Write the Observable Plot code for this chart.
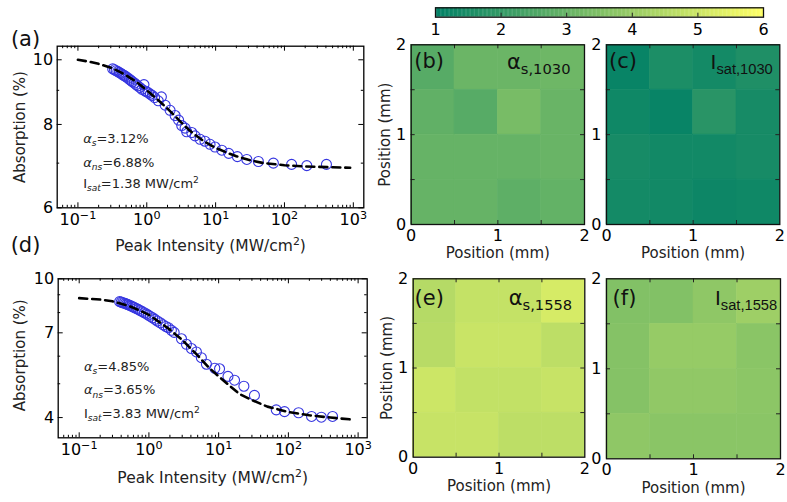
<!DOCTYPE html>
<html><head><meta charset="utf-8">
<script src="https://cdn.jsdelivr.net/npm/d3@7"></script>
<script src="https://cdn.jsdelivr.net/npm/@observablehq/plot@0.6"></script>
<style>
html,body{margin:0;padding:0;background:#fff;}
#wrap{position:relative;width:787px;height:502px;overflow:hidden;background:#fff;}
#wrap svg{position:absolute;background:none;overflow:visible;max-width:none;}
</style></head><body><div id="wrap"></div>
<script>
// ---------- data: panel (a) 1030 nm ----------
const intensityA = [0.32,0.34,0.36,0.38,0.40,0.42,0.44,0.46,0.48,0.50,0.53,0.56,0.59,0.62,0.66,0.70,0.74,0.79,0.85,0.91,0.95,1.0,1.06,1.13,1.2,1.3,1.47,1.63,1.85,2.18,2.58,2.9,3.22,3.6,3.8,4.5,5.03,5.95,7.0,8.3,9.8,12.3,15.5,20.7,28.4,41.8,69,127,211,407];
const absorptionA = [9.69,9.66,9.63,9.60,9.57,9.54,9.51,9.48,9.46,9.43,9.39,9.35,9.31,9.27,9.23,9.18,9.14,9.09,9.03,9.18,8.98,8.95,8.92,8.88,8.84,8.78,8.68,8.80,8.55,8.40,8.25,8.12,7.97,7.90,7.80,7.78,7.69,7.60,7.55,7.47,7.40,7.32,7.24,7.16,7.09,7.04,7.00,6.97,6.94,6.97];
const fitIntensityA = [0.1,0.15,0.2,0.3,0.4,0.5,0.7,1,1.5,2,3,4,5,7,10,15,20,30,50,100,200,500,900];
const fitAbsorptionA = [10.0,9.93,9.86,9.73,9.60,9.48,9.27,9.0,8.68,8.45,8.10,7.87,7.72,7.53,7.38,7.25,7.17,7.08,7.00,6.95,6.92,6.90,6.89];
const notesA = ["~{α}_~{s}=3.12%", "~{α}_~{ns}=6.88%", "I_~{sat}=1.38 MW/cm^{2}"];
const yTicksA = [6, 8, 10];

// ---------- data: panel (d) 1558 nm ----------
const intensityD = [0.38,0.40,0.42,0.44,0.46,0.48,0.50,0.53,0.56,0.59,0.62,0.66,0.70,0.75,0.80,0.86,0.92,0.98,1.05,1.13,1.22,1.32,1.45,1.60,1.75,1.9,2.1,2.3,2.93,3.45,4.07,4.8,5.65,6.68,8.8,10.3,13.6,16.9,23,32.6,67,88,140,215,297,430];
const absorptionD = [8.60,8.57,8.54,8.52,8.49,8.46,8.43,8.39,8.35,8.31,8.27,8.22,8.17,8.11,8.05,7.99,7.93,7.87,7.80,7.73,7.65,7.57,7.48,7.38,7.30,7.24,7.12,7.02,6.73,6.49,6.31,6.17,5.94,5.69,5.54,5.52,5.25,5.12,4.92,4.63,4.21,4.16,4.13,4.03,4.01,4.03];
const fitIntensityD = [0.1,0.2,0.3,0.5,0.7,1,1.5,2,3,4,5,7,10,15,20,30,50,100,200,400,800];
const fitAbsorptionD = [8.80,8.72,8.62,8.38,8.15,7.88,7.45,7.15,6.68,6.30,6.03,5.60,5.25,4.90,4.67,4.49,4.30,4.15,4.06,4.00,3.95];
const notesD = ["~{α}_~{s}=4.85%", "~{α}_~{ns}=3.65%", "I_~{sat}=3.83 MW/cm^{2}"];
const yTicksD = [4, 7, 10];

const xTicksLog = [0.1, 1, 10, 100, 1000];

// ---------- data: 2D maps (rows listed top to bottom, columns left to right) ----------
const cellEdgesX = [0, 0.5, 1, 1.5];
const cellEdgesY = [1.5, 1, 0.5, 0];
const mapAlpha1030 = [
  [2.7, 3.1, 3.1, 3.15],
  [2.9, 2.7, 3.35, 3.05],
  [3.0, 3.0, 3.0, 3.05],
  [3.0, 3.0, 2.85, 2.95]];
const mapIsat1030 = [
  [1.15, 1.55, 1.4, 1.6],
  [1.3, 1.15, 1.8, 1.45],
  [1.45, 1.35, 1.35, 1.45],
  [1.4, 1.35, 1.25, 1.3]];
const mapAlpha1558 = [
  [4.55, 4.85, 4.85, 5.2],
  [4.6, 4.95, 4.95, 4.7],
  [5.0, 4.8, 4.8, 4.9],
  [4.9, 4.9, 4.7, 4.7]];
const mapIsat1558 = [
  [3.55, 3.55, 3.8, 4.1],
  [3.6, 3.95, 3.95, 3.7],
  [3.6, 3.85, 3.85, 3.75],
  [3.8, 3.7, 3.7, 3.7]];
const mapTicks = [0, 1, 2];
const colorbarTicks = [1, 2, 3, 4, 5, 6];

// ---------- helpers ----------
const wrap = document.getElementById("wrap");
const FONT = "DejaVu Sans, Bitstream Vera Sans, sans-serif";
const colorScale = {type: "linear", domain: [1, 6], interpolate: d3.interpolateRgb("#008066", "#ffff66")};

function place(svg, left, top) {
  svg.style.left = left + "px";
  svg.style.top = top + "px";
  wrap.appendChild(svg);
  richify(svg);
}

function richify(root) {
  root.querySelectorAll("text").forEach(t => {
    const s = t.textContent;
    if (!/[_^~]\{/.test(s)) return;
    const fs = parseFloat(getComputedStyle(t).fontSize) || 12;
    while (t.firstChild) t.removeChild(t.firstChild);
    const re = /(_~|_|\^|~)\{([^}]*)\}/g;
    let last = 0, shift = 0, m;
    const add = (str, kind) => {
      if (!str) return;
      const sp = document.createElementNS("http://www.w3.org/2000/svg", "tspan");
      let target = 0, size = null, italic = false;
      if (kind === "_" || kind === "_~") { target = 0.24 * fs; size = 0.7 * fs; }
      if (kind === "^") { target = -0.4 * fs; size = 0.7 * fs; }
      if (kind === "~" || kind === "_~") italic = true;
      const dy = target - shift; shift = target;
      if (dy) sp.setAttribute("dy", dy);
      if (size) sp.setAttribute("font-size", size);
      if (italic) sp.setAttribute("font-style", "italic");
      sp.textContent = str;
      t.appendChild(sp);
    };
    while ((m = re.exec(s))) { add(s.slice(last, m.index), ""); add(m[2], m[1]); last = re.lastIndex; }
    add(s.slice(last), "");
  });
}

function logMinor(lo, hi) {
  const out = [];
  for (let e = -2; e <= 3; e++) for (let k = 2; k <= 9; k++) {
    const v = k * Math.pow(10, e);
    if (v > lo && v < hi) out.push(v);
  }
  return out;
}

function absorptionPanel(cfg) {
  const {xs, ys, fx, fy, xDomain, yDomain, yMajor, yMinor, notes, noteX, noteY, tag,
         width, height, ml, mr, mt, mb, tagDx, tagDy, xLabDy, yLabDx, yLabDy} = cfg;
  const H = height - mt - mb, W = width - ml - mr;
  const pts = xs.map((x, i) => ({x, y: ys[i]}));
  const fit = fx.map((x, i) => ({x, y: fy[i]}));
  const notePts = notes.map((t, i) => ({x: noteX, y: noteY[i], t}));
  const minorX = logMinor(xDomain[0], xDomain[1]);
  const expo = d => { const e = Math.round(Math.log10(d)); return "10^{" + (e < 0 ? "\u2212" + (-e) : e) + "}"; };
  return Plot.plot({
    width, height, marginLeft: ml, marginRight: mr, marginTop: mt, marginBottom: mb,
    style: {fontFamily: FONT, background: "none", overflow: "visible"},
    x: {type: "log", domain: xDomain},
    y: {type: "log", domain: yDomain},
    marks: [
      Plot.dot(pts, {x: "x", y: "y", r: 5, stroke: "#3636e0", fill: "none", strokeWidth: 1.1}),
      Plot.line(fit, {x: "x", y: "y", stroke: "#000", strokeWidth: 2.6, strokeDasharray: "8,5"}),
      Plot.tickX(xTicksLog, {x: d => d, insetTop: H - 5, stroke: "#000"}),
      Plot.tickX(xTicksLog, {x: d => d, insetBottom: H - 5, stroke: "#000"}),
      Plot.tickX(minorX, {x: d => d, insetTop: H - 2.5, stroke: "#000"}),
      Plot.tickX(minorX, {x: d => d, insetBottom: H - 2.5, stroke: "#000"}),
      Plot.tickY(yMajor, {y: d => d, insetRight: W - 5, stroke: "#000"}),
      Plot.tickY(yMajor, {y: d => d, insetLeft: W - 5, stroke: "#000"}),
      Plot.tickY(yMinor, {y: d => d, insetRight: W - 2.5, stroke: "#000"}),
      Plot.tickY(yMinor, {y: d => d, insetLeft: W - 2.5, stroke: "#000"}),
      Plot.axisX({ticks: xTicksLog, tickFormat: expo, tickSize: 0, tickPadding: 6, fontSize: 16, label: null}),
      Plot.axisY({ticks: yMajor, tickFormat: d => String(d), tickSize: 0, tickPadding: 4, fontSize: 16, label: null}),
      Plot.text(notePts, {x: "x", y: "y", text: "t", textAnchor: "start", fontSize: 13, fill: "#222"}),
      Plot.text(["Absorption (%)"], {frameAnchor: "left", rotate: -90, dx: yLabDx, dy: yLabDy, textAnchor: "middle", lineAnchor: "middle", fontSize: 15, fill: "#222"}),
      Plot.text(["Peak Intensity (MW/cm^{2})"], {frameAnchor: "bottom", dy: xLabDy, textAnchor: "middle", lineAnchor: "middle", fontSize: 15.5, fill: "#222"}),
      Plot.text([tag], {frameAnchor: "top-left", dx: tagDx, dy: tagDy, textAnchor: "middle", lineAnchor: "middle", fontSize: 21, fill: "#111"}),
      Plot.frame({stroke: "#000", strokeWidth: 1.3})
    ]
  });
}

function heatPanel(cfg) {
  const {grid, tag, title, titleFont, width, height, ml, mr, mt, mb, yLabel, tagDx, tagDy, titleDx, titleDy, xLabDy} = cfg;
  const H = height - mt - mb, W = width - ml - mr;
  const cells = [];
  grid.forEach((row, r) => row.forEach((v, c) => cells.push({x: cellEdgesX[c], y: cellEdgesY[r], v})));
  const inner = [0.5, 1, 1.5];
  const marks = [
    Plot.rect(cells, {x1: "x", x2: d => d.x + 0.5, y1: "y", y2: d => d.y + 0.5, fill: "v", stroke: "v", strokeWidth: 0.6}),
    Plot.tickX(inner, {x: d => d, insetTop: H - 4, stroke: "#222"}),
    Plot.tickX(inner, {x: d => d, insetBottom: H - 4, stroke: "#222"}),
    Plot.tickY(inner, {y: d => d, insetRight: W - 4, stroke: "#222"}),
    Plot.tickY(inner, {y: d => d, insetLeft: W - 4, stroke: "#222"}),
    Plot.axisX({ticks: mapTicks, tickFormat: d => String(d), tickSize: 0, tickPadding: 5, fontSize: 16, label: null}),
    Plot.axisY({ticks: mapTicks, tickFormat: d => String(d), tickSize: 0, tickPadding: 5, fontSize: 16, label: null}),
    Plot.text(["Position (mm)"], {frameAnchor: "bottom", dy: xLabDy, textAnchor: "middle", lineAnchor: "middle", fontSize: 15, fill: "#222"}),
    Plot.text([tag], {frameAnchor: "top-left", dx: tagDx, dy: tagDy, textAnchor: "middle", lineAnchor: "middle", fontSize: 21, fill: "#111"}),
    Plot.text([title], {frameAnchor: "top-right", dx: titleDx, dy: titleDy, textAnchor: "end", lineAnchor: "middle", fontSize: 21, fill: "#111", fontFamily: titleFont}),
    Plot.frame({stroke: "#111", strokeWidth: 1.3})
  ];
  if (yLabel) marks.push(Plot.text(["Position (mm)"], {frameAnchor: "left", rotate: -90, dx: -26, textAnchor: "middle", lineAnchor: "middle", fontSize: 15, fill: "#222"}));
  return Plot.plot({
    width, height, marginLeft: ml, marginRight: mr, marginTop: mt, marginBottom: mb,
    style: {fontFamily: FONT, background: "none", overflow: "visible"},
    x: {domain: [0, 2]},
    y: {domain: [0, 2]},
    color: colorScale,
    marks
  });
}

// ---------- panel (a) ----------
place(absorptionPanel({
  xs: intensityA, ys: absorptionA, fx: fitIntensityA, fy: fitAbsorptionA,
  xDomain: [0.05, 1420], yDomain: [6, 10.48], yMajor: yTicksA, yMinor: [7, 9],
  notes: notesA, noteX: 0.119, noteY: [7.62, 7.01, 6.52], tag: "(a)",
  width: 370, height: 262, ml: 56.7, mr: 6.7, mt: 45.7, mb: 54.7,
  tagDx: -31.7, tagDy: -7, xLabDy: 38.5, yLabDx: -37, yLabDy: 0
}), 0, 0);

// ---------- panel (d) ----------
place(absorptionPanel({
  xs: intensityD, ys: absorptionD, fx: fitIntensityD, fy: fitAbsorptionD,
  xDomain: [0.05, 1350], yDomain: [3.5, 10], yMajor: yTicksD, yMinor: [5, 6, 8, 9],
  notes: notesD, noteX: 0.117, noteY: [5.58, 4.79, 4.10], tag: "(d)",
  width: 370, height: 272, ml: 57.7, mr: 3.3, mt: 48.3, mb: 64.7,
  tagDx: -32.7, tagDy: -34, xLabDy: 40.5, yLabDx: -38, yLabDy: -3
}), 0, 230);

// ---------- colorbar ----------
place(Plot.plot({
  width: 345, height: 45, marginLeft: 5, marginRight: 12, marginTop: 7.3, marginBottom: 28.3,
  style: {fontFamily: FONT, background: "none", overflow: "visible"},
  x: {domain: [1, 6]},
  color: colorScale,
  marks: [
    Plot.rect(d3.range(1, 6, 0.02), {x1: d => d, x2: d => Math.min(6, d + 0.025), fill: d => d + 0.01}),
    Plot.tickX([2, 3, 4, 5], {x: d => d, insetTop: 5.4, stroke: "#222"}),
    Plot.axisX({ticks: colorbarTicks, tickFormat: d => String(d), tickSize: 0, tickPadding: 6, fontSize: 16, label: null}),
    Plot.frame({stroke: "#111", strokeWidth: 1.3})
  ]
}), 430, 0);

// ---------- maps ----------
place(heatPanel({grid: mapAlpha1030, tag: "(b)", title: "α_{s,1030}", titleFont: FONT,
  width: 216, height: 235, ml: 40.7, mr: 2, mt: 14.3, mb: 41, yLabel: true,
  tagDx: 18, tagDy: 16.5, titleDx: -14, titleDy: 17, xLabDy: 29}), 370, 30);
place(heatPanel({grid: mapIsat1030, tag: "(c)", title: "I_{sat,1030}", titleFont: "Liberation Sans, Arial, sans-serif",
  width: 207, height: 235, ml: 26, mr: 7.7, mt: 14.3, mb: 41, yLabel: false,
  tagDx: 16.5, tagDy: 16.5, titleDx: -7, titleDy: 17, xLabDy: 29}), 580, 30);
place(heatPanel({grid: mapAlpha1558, tag: "(e)", title: "α_{s,1558}", titleFont: FONT,
  width: 216, height: 238, ml: 42.7, mr: 1.7, mt: 14.3, mb: 45.3, yLabel: true,
  tagDx: 16, tagDy: 19, titleDx: -12.6, titleDy: 19, xLabDy: 29}), 370, 264);
place(heatPanel({grid: mapIsat1558, tag: "(f)", title: "I_{sat,1558}", titleFont: "Liberation Sans, Arial, sans-serif",
  width: 207, height: 238, ml: 26, mr: 7, mt: 14.3, mb: 43.7, yLabel: false,
  tagDx: 18, tagDy: 19, titleDx: -3.3, titleDy: 19, xLabDy: 29.5}), 580, 264);
</script></body></html>
